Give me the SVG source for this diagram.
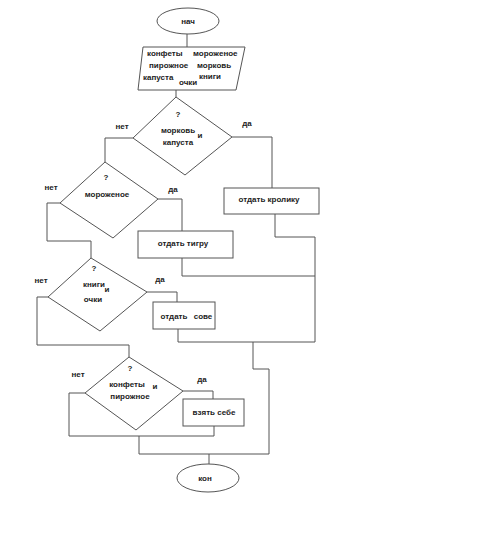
<svg xmlns="http://www.w3.org/2000/svg" width="500" height="534" viewBox="0 0 500 534">
<style>
.s{fill:#fff;stroke:#555;stroke-width:1}
.c{fill:none;stroke:#555;stroke-width:1}
text{font-family:"Liberation Sans",Arial,sans-serif;font-size:8px;font-weight:bold;fill:#222}
.m{text-anchor:middle}
</style>
<rect width="500" height="534" fill="#fff"/>
<g id="connectors" class="c">
<path d="M187 34V47"/>
<path d="M176 90V97"/>
<path d="M133 138H105V162"/>
<path d="M232 137H272V188"/>
<path d="M60 203H47V241H91V258"/>
<path d="M158 199H182V231"/>
<path d="M275 214V237H315V342"/>
<path d="M182 258V276H315"/>
<path d="M147 292H177V302"/>
<path d="M48 297H37V345H129V357"/>
<path d="M178 329V342H315"/>
<path d="M253 342V369H269V454H139V436"/>
<path d="M183 391H213V399"/>
<path d="M85 393H69V436H214V426"/>
<path d="M209 454V464"/>
</g>
<g id="start"><ellipse class="s" cx="188" cy="21" rx="31" ry="13"/><text class="m" x="188" y="24">нач</text></g>
<g id="input"><polygon class="s" points="143,47 245,47 236,90 138,90"/>
<text x="147" y="56">конфеты</text><text x="193" y="56">мороженое</text>
<text x="149" y="68">пирожное</text><text x="197" y="68">морковь</text>
<text x="143" y="80">капуста</text><text x="199" y="79">книги</text>
<text x="179" y="85">очки</text></g>
<g id="d1"><polygon class="s" points="176,97 232,137 185,175 133,138"/>
<text class="m" x="178" y="117">?</text><text class="m" x="178" y="133">морковь</text><text class="m" x="200" y="138">и</text><text class="m" x="178" y="145">капуста</text></g>
<g id="d2"><polygon class="s" points="105,162 158,199 113,238 60,203"/>
<text class="m" x="106" y="180">?</text><text class="m" x="107" y="197">мороженое</text></g>
<g id="d3"><polygon class="s" points="91,258 147,292 100,331 48,297"/>
<text class="m" x="94" y="271">?</text><text class="m" x="94" y="287">книги</text><text class="m" x="107" y="292">и</text><text class="m" x="93" y="302">очки</text></g>
<g id="d4"><polygon class="s" points="129,357 183,391 136,430 85,393"/>
<text class="m" x="130" y="371">?</text><text class="m" x="127" y="387">конфеты</text><text class="m" x="155" y="389">и</text><text class="m" x="130" y="399">пирожное</text></g>
<g id="b1"><rect class="s" x="224" y="188" width="95" height="26"/><text class="m" x="269" y="202">отдать кролику</text></g>
<g id="b2"><rect class="s" x="138" y="231" width="95" height="27"/><text class="m" x="183" y="246">отдать тигру</text></g>
<g id="b3"><rect class="s" x="153" y="302" width="62" height="27"/><text class="m" x="174" y="319">отдать</text><text class="m" x="203" y="319">сове</text></g>
<g id="b4"><rect class="s" x="183" y="399" width="61" height="27"/><text class="m" x="214" y="415">взять себе</text></g>
<g id="end"><ellipse class="s" cx="208" cy="478" rx="31" ry="14"/><text class="m" x="205" y="481">кон</text></g>
<g id="labels">
<text class="m" x="122" y="129">нет</text><text class="m" x="247" y="126">да</text>
<text class="m" x="51" y="190">нет</text><text class="m" x="173" y="192">да</text>
<text class="m" x="41" y="283">нет</text><text class="m" x="160" y="282">да</text>
<text class="m" x="78" y="377">нет</text><text class="m" x="202" y="382">да</text>
</g>
</svg>
